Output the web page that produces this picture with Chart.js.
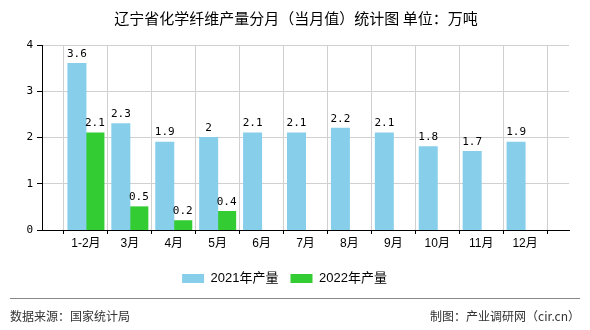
<!DOCTYPE html>
<html>
<head>
<meta charset="utf-8">
<script src="https://cdn.jsdelivr.net/npm/chart.js@4.4.1/dist/chart.umd.min.js"></script>
<style>
  body { margin: 0; background: #fff; }
  #wrap { width: 590px; height: 330px; position: relative; }
</style>
</head>
<body>
<div id="wrap"><canvas id="c" width="590" height="330"></canvas></div>
<script>
const months = ["1-2月", "3月", "4月", "5月", "6月", "7月", "8月", "9月", "10月", "11月", "12月"];
const prod2021 = [3.6, 2.3, 1.9, 2, 2.1, 2.1, 2.2, 2.1, 1.8, 1.7, 1.9];
const prod2022 = [2.1, 0.5, 0.2, 0.4, null, null, null, null, null, null, null];
const yTicks = [0, 1, 2, 3, 4];

const TITLE = "辽宁省化学纤维产量分月（当月值）统计图 单位：万吨";
const SOURCE = "数据来源：国家统计局";
const MAKER = "制图：产业调研网（cir.cn）";

// empty slot at each end so the months sit on grid lines like the original
const labels = ["", ...months, ""];
const pad = (arr) => [null, ...arr, null];

const NUM_FONT = "'DejaVu Sans Mono', monospace";
const CJK_FONT = "'Liberation Sans', 'Noto Sans CJK SC', sans-serif";

const decor = {
  id: "decor",
  afterDatasetsDraw(chart) {
    const ctx = chart.ctx;
    ctx.save();
    // value labels over bars
    ctx.font = "11px " + NUM_FONT;
    ctx.fillStyle = "#000";
    ctx.textAlign = "center";
    ctx.textBaseline = "bottom";
    chart.data.datasets.forEach((ds, i) => {
      chart.getDatasetMeta(i).data.forEach((bar, j) => {
        const v = ds.data[j];
        if (v === null || v === undefined) return;
        ctx.fillText(String(v), bar.x, bar.y - 4);
      });
    });
    ctx.restore();
  },
  afterDraw(chart) {
    const ctx = chart.ctx;
    ctx.save();
    ctx.fillStyle = "#000";
    ctx.textAlign = "center";
    ctx.textBaseline = "middle";
    ctx.font = "15px 'Noto Sans CJK SC', sans-serif";
    ctx.fillText(TITLE, 296, 18);

    ctx.strokeStyle = "#888";
    ctx.lineWidth = 1;
    ctx.beginPath();
    ctx.moveTo(10, 298.5);
    ctx.lineTo(580, 298.5);
    ctx.stroke();

    ctx.fillStyle = "#333";
    ctx.font = "12px 'Noto Sans CJK SC', sans-serif";
    ctx.textAlign = "left";
    ctx.fillText(SOURCE, 10, 316);
    ctx.textAlign = "right";
    ctx.fillText(MAKER, 580, 316);
    ctx.restore();
  },
};

new Chart(document.getElementById("c"), {
  type: "bar",
  data: {
    labels,
    datasets: [
      {
        label: "2021年产量",
        data: pad(prod2021),
        backgroundColor: "#87CEEB",
        borderWidth: 0,
        inflateAmount: 0.5,
        barPercentage: 1,
        categoryPercentage: 0.82,
      },
      {
        label: "2022年产量",
        data: pad(prod2022),
        backgroundColor: "#33CC33",
        borderWidth: 0,
        inflateAmount: 0.5,
        barPercentage: 1,
        categoryPercentage: 0.82,
      },
    ],
  },
  options: {
    responsive: false,
    animation: false,
    layout: { padding: { left: 0, right: 21, top: 45, bottom: 35 } },
    plugins: {
      title: { display: false },
      tooltip: { enabled: false },
      legend: {
        position: "bottom",
        labels: {
          boxWidth: 22,
          boxHeight: 9,
          padding: 12,
          color: "#000",
          font: { size: 13, family: CJK_FONT },
        },
      },
    },
    scales: {
      x: {
        offset: false,
        grid: { color: "#d0d0d0", tickColor: "#000", tickLength: 4 },
        border: { color: "#000" },
        ticks: { color: "#000", font: { size: 12, family: CJK_FONT }, maxRotation: 0, autoSkip: false, padding: 2 },
        afterFit(scale) { scale.height = 30; },
      },
      y: {
        min: yTicks[0],
        max: yTicks[yTicks.length - 1],
        grid: { color: "#d0d0d0", tickColor: "#000", tickLength: 5 },
        border: { color: "#000" },
        ticks: { stepSize: 1, color: "#000", font: { size: 11, family: NUM_FONT }, padding: 4 },
        afterFit(scale) { scale.width = 42; },
      },
    },
  },
  plugins: [decor],
});
</script>
</body>
</html>
